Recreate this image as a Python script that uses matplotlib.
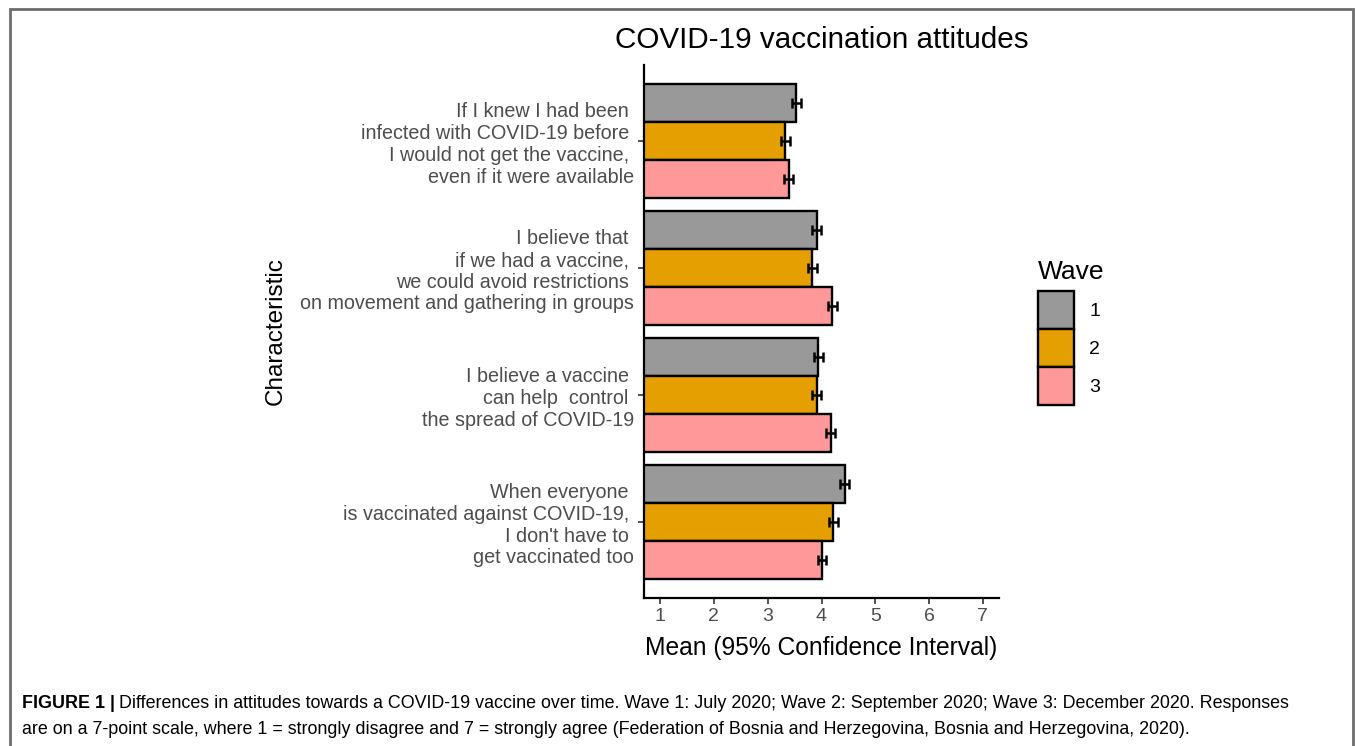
import matplotlib
matplotlib.use("Agg")
import matplotlib.pyplot as plt
import numpy as np
from matplotlib.patches import Rectangle

# ---------------- data ----------------
categories = [
    "If I knew I had been \ninfected with COVID-19 before \nI would not get the vaccine, \neven if it were available",
    "I believe that \nif we had a vaccine, \nwe could avoid restrictions \non movement and gathering in groups",
    "I believe a vaccine \ncan help  control \nthe spread of COVID-19",
    "When everyone \nis vaccinated against COVID-19, \nI don't have to \nget vaccinated too",
]
waves = ["1", "2", "3"]
wave1_mean = [3.53, 3.91, 3.94, 4.43]
wave2_mean = [3.33, 3.83, 3.91, 4.22]
wave3_mean = [3.39, 4.20, 4.17, 4.01]
wave1_ci = [0.08, 0.08, 0.08, 0.08]
wave2_ci = [0.08, 0.08, 0.08, 0.08]
wave3_ci = [0.08, 0.08, 0.08, 0.08]
x_ticks = [1, 2, 3, 4, 5, 6, 7]

colors = ["#999999", "#E69F00", "#FF9999"]
means = [wave1_mean, wave2_mean, wave3_mean]
cis = [wave1_ci, wave2_ci, wave3_ci]

W, H = 1355, 746
fig = plt.figure(figsize=(W / 100, H / 100), dpi=100)
plt.rcParams['font.family'] = ['Liberation Sans', 'DejaVu Sans']

ax = fig.add_axes([644 / W, 1 - 598 / H, 355 / W, 533 / H])

y = np.arange(1, len(categories) + 1)
bh = 0.3
for i, (m, c, col) in enumerate(zip(means, cis, colors)):
    yy = y + (i - 1) * bh
    ax.barh(yy, m, height=bh, color=col, edgecolor="black", linewidth=1.7,
            label=waves[i], zorder=2)
    ax.errorbar(m, yy, xerr=c, fmt="none", ecolor="black", elinewidth=1.8,
                capsize=3.6, capthick=1.8, zorder=3)

ax.set_xlim(0.7, 7.3)
ax.set_ylim(4.6, 0.4)
ax.set_xticks(x_ticks)
ax.set_xticklabels([str(t) for t in x_ticks])
ax.set_yticks(y)
ax.set_yticklabels(categories, fontsize=14.2, color="#4D4D4D", ha="right",
                   linespacing=1.18)
for s in ["top", "right"]:
    ax.spines[s].set_visible(False)
for s in ["left", "bottom"]:
    ax.spines[s].set_linewidth(1.6)
    ax.spines[s].set_color("black")
ax.tick_params(axis="both", length=4, width=1.2, color="#333333",
               labelcolor="#4D4D4D", pad=3)
ax.tick_params(axis="x", labelsize=14)

ax.set_xlabel("Mean (95% Confidence Interval)", fontsize=17.7, color="black",
              labelpad=8)
ax.set_ylabel("Characteristic", fontsize=17.5, color="black")
ax.yaxis.set_label_coords((287 - 644) / 355, 0.5)
ax.set_title("COVID-19 vaccination attitudes", fontsize=21.3, color="black",
             pad=12)

leg = ax.legend(title="Wave", loc="upper left",
                bbox_to_anchor=(1028 / W, 1 - 250 / H),
                bbox_transform=fig.transFigure, frameon=False,
                fontsize=14, title_fontsize=19, handlelength=1.86,
                handleheight=2.64, labelspacing=0.0, handletextpad=0.8,
                borderpad=0.0)
leg._legend_box.align = "left"
leg._legend_box.sep = 5

# border
fig.add_artist(Rectangle((9.5 / W, -0.05), (1353 - 9.5) / W, 1.05 - 8.5 / H,
                         transform=fig.transFigure, fill=False,
                         edgecolor="#6E6E6E", linewidth=2))

# caption
cap_fs = 12.9
bold = fig.text(22 / W, 1 - 703 / H, "FIGURE 1 |", fontsize=cap_fs,
                fontweight="bold", va="center", ha="left")
fig.canvas.draw()
r = fig.canvas.get_renderer()
bb = bold.get_window_extent(r)
fig.text((bb.x1 + 4) / W, 1 - 703 / H,
         "Differences in attitudes towards a COVID-19 vaccine over time. Wave 1: July 2020; "
         "Wave 2: September 2020; Wave 3: December 2020. Responses",
         fontsize=cap_fs, va="center", ha="left")
fig.text(22 / W, 1 - 729 / H,
         "are on a 7-point scale, where 1 = strongly disagree and 7 = strongly agree "
         "(Federation of Bosnia and Herzegovina, Bosnia and Herzegovina, 2020).",
         fontsize=cap_fs, va="center", ha="left")

fig.savefig("out.png", dpi=100)
